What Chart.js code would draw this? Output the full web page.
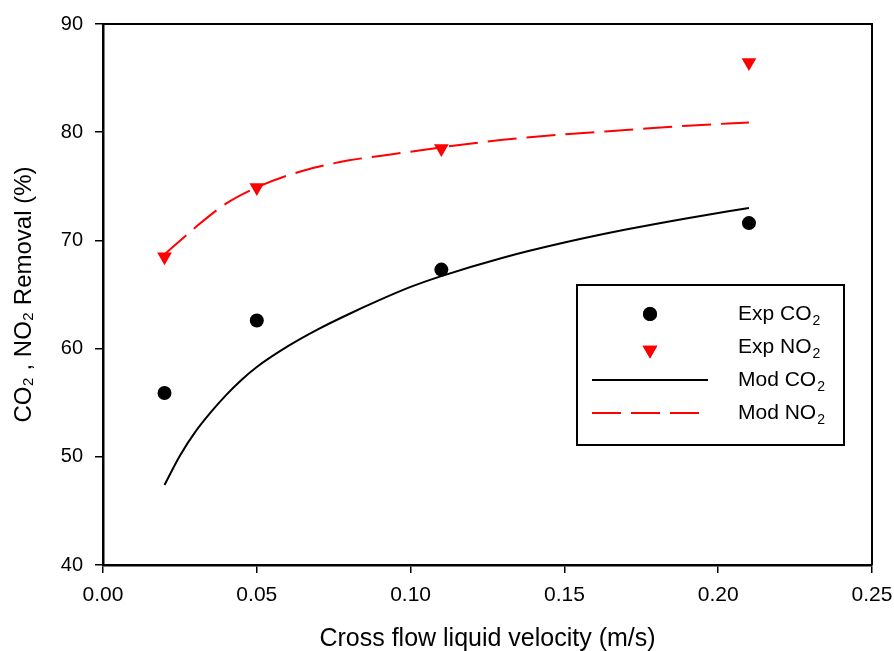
<!DOCTYPE html>
<html><head><meta charset="utf-8">
<script src="https://cdn.jsdelivr.net/npm/chart.js@4"></script>
<style>html,body{margin:0;padding:0;background:#fff}#wrap{width:894px;height:651px}</style>
</head><body><div id="wrap"><canvas id="c" width="894" height="651"></canvas></div>
<script>
// ---- data ----
const velocity = [0.02, 0.05, 0.11, 0.21];
const expCO2 = [55.9, 62.6, 67.3, 71.6];
const expNO2 = [68.5, 74.9, 78.5, 86.45];
const modCO2Velocity = [0.02, 0.025, 0.03, 0.035, 0.04, 0.045, 0.05, 0.06, 0.07, 0.08, 0.09, 0.10, 0.11, 0.13, 0.15, 0.17, 0.19, 0.21];
const modCO2 = [47.4, 50.1, 52.3, 54.1, 55.7, 57.1, 58.3, 60.2, 61.8, 63.2, 64.5, 65.7, 66.7, 68.4, 69.8, 71.0, 72.05, 73.0];
const modNO2Velocity = [0.02, 0.03, 0.04, 0.05, 0.06, 0.07, 0.08, 0.09, 0.10, 0.11, 0.13, 0.15, 0.17, 0.19, 0.21];
const modNO2 = [68.7, 71.2, 73.4, 74.9, 76.0, 76.8, 77.4, 77.8, 78.2, 78.6, 79.3, 79.8, 80.2, 80.6, 80.9];
const xTicks = [0, 0.05, 0.10, 0.15, 0.20, 0.25];
const yTicks = [40, 50, 60, 70, 80, 90];
const seriesLabels = ['Exp CO₂', 'Exp NO₂', 'Mod CO₂', 'Mod NO₂'];
const xTitle = 'Cross flow liquid velocity (m/s)';
const yTitle = 'CO₂ , NO₂ Removal (%)';

const FONT = "'Liberation Sans', Arial, sans-serif";
const pts = (xs, ys) => xs.map((x, i) => ({x: x, y: ys[i]}));

// draw text where '₂' is rendered as a real subscript 2
function drawSubText(ctx, text, x, y, size, subSize, subDrop) {
  const parts = text.split('₂');
  let cx = x;
  parts.forEach((p, i) => {
    ctx.font = size + 'px ' + FONT;
    ctx.fillText(p, cx, y);
    cx += ctx.measureText(p).width;
    if (i < parts.length - 1) {
      ctx.font = subSize + 'px ' + FONT;
      ctx.fillText('2', cx + 1, y + subDrop);
      cx += ctx.measureText('2').width + 1;
    }
  });
}

const framePlugin = {
  id: 'frame',
  afterDraw(chart) {
    const {ctx, chartArea: a} = chart;
    ctx.save();
    ctx.strokeStyle = '#000';
    ctx.lineWidth = 2;
    ctx.beginPath();
    ctx.moveTo(a.left, a.top);
    ctx.lineTo(a.right, a.top);
    ctx.lineTo(a.right, a.bottom);
    ctx.stroke();
    ctx.restore();
  }
};

const legendPlugin = {
  id: 'boxLegend',
  afterDraw(chart) {
    const ctx = chart.ctx;
    const ds = chart.data.datasets;
    ctx.save();
    ctx.strokeStyle = '#000';
    ctx.lineWidth = 2;
    ctx.strokeRect(577, 285, 267, 160);
    const rows = [314, 347, 380, 413];
    const markerX = 650, lineX0 = 592, lineX1 = 708, textX = 738;
    ctx.fillStyle = ds[0].backgroundColor;
    ctx.beginPath();
    Chart.helpers.drawPoint(ctx, {pointStyle: ds[0].pointStyle, radius: ds[0].pointRadius, rotation: 0, borderWidth: 0}, markerX, rows[0]);
    ctx.fill();
    ctx.fillStyle = ds[1].backgroundColor;
    ctx.beginPath();
    Chart.helpers.drawPoint(ctx, {pointStyle: ds[1].pointStyle, radius: ds[1].pointRadius, rotation: ds[1].rotation, borderWidth: 0}, markerX, rows[1] + 3);
    ctx.fill();
    [2, 3].forEach(k => {
      ctx.beginPath();
      ctx.strokeStyle = ds[k].borderColor;
      ctx.lineWidth = ds[k].borderWidth;
      ctx.setLineDash(ds[k].borderDash || []);
      ctx.moveTo(lineX0, rows[k]);
      ctx.lineTo(lineX1, rows[k]);
      ctx.stroke();
    });
    ctx.setLineDash([]);
    ctx.fillStyle = '#000';
    ctx.textBaseline = 'middle';
    ctx.textAlign = 'left';
    ds.forEach((d, k) => drawSubText(ctx, d.label, textX, rows[k], 21, 14, 7));
    ctx.restore();
  }
};

new Chart(document.getElementById('c'), {
  type: 'scatter',
  data: {
    datasets: [
      {label: seriesLabels[0], data: pts(velocity, expCO2), pointStyle: 'circle', pointRadius: 7, pointHoverRadius: 7,
       backgroundColor: '#000000', borderColor: '#000000', borderWidth: 0, showLine: false, order: 0},
      {label: seriesLabels[1], data: pts(velocity, expNO2), pointStyle: 'triangle', rotation: 180, pointRadius: 8.5, pointHoverRadius: 8.5,
       backgroundColor: '#ff0000', borderColor: '#ff0000', borderWidth: 0, showLine: false, order: 0},
      {label: seriesLabels[2], data: pts(modCO2Velocity, modCO2), showLine: true, pointRadius: 0, borderColor: '#000000',
       backgroundColor: '#000000', borderWidth: 2, cubicInterpolationMode: 'monotone', order: 1},
      {label: seriesLabels[3], data: pts(modNO2Velocity, modNO2), showLine: true, pointRadius: 0, borderColor: '#ff0000',
       backgroundColor: '#ff0000', borderWidth: 2, borderDash: [29, 10], cubicInterpolationMode: 'monotone', order: 1}
    ]
  },
  options: {
    responsive: false,
    animation: false,
    devicePixelRatio: 1,
    layout: {padding: {top: 24, right: 0, left: 0, bottom: 0}},
    plugins: {legend: {display: false}, tooltip: {enabled: false}, title: {display: false}},
    scales: {
      x: {
        type: 'linear', min: 0, max: 0.25,
        afterBuildTicks: s => { s.ticks = xTicks.map(v => ({value: v})); },
        afterFit: s => { s.height = 86; s.paddingRight = 22; s.paddingLeft = 0; },
        ticks: {callback: v => Number(v).toFixed(2), color: '#000', font: {family: FONT, size: 21}, padding: 10, maxRotation: 0},
        grid: {display: true, drawOnChartArea: false, drawTicks: true, tickLength: 8, color: '#000', lineWidth: 1.5},
        border: {display: true, color: '#000', width: 2.5},
        title: {display: true, text: xTitle, color: '#000', font: {family: FONT, size: 25}, padding: {top: 0, bottom: -3.5}}
      },
      y: {
        type: 'linear', min: 40, max: 90,
        afterBuildTicks: s => { s.ticks = yTicks.map(v => ({value: v})); },
        afterFit: s => { s.width = 103; },
        ticks: {callback: v => String(v), color: '#000', font: {family: FONT, size: 20}, padding: 12},
        grid: {display: true, drawOnChartArea: false, drawTicks: true, tickLength: 8, color: '#000', lineWidth: 1.5},
        border: {display: true, color: '#000', width: 2.5},
        title: {display: true, text: yTitle, color: '#000', font: {family: FONT, size: 24}, padding: {top: 10, bottom: 0}}
      }
    }
  },
  plugins: [framePlugin, legendPlugin]
});
</script></body></html>
